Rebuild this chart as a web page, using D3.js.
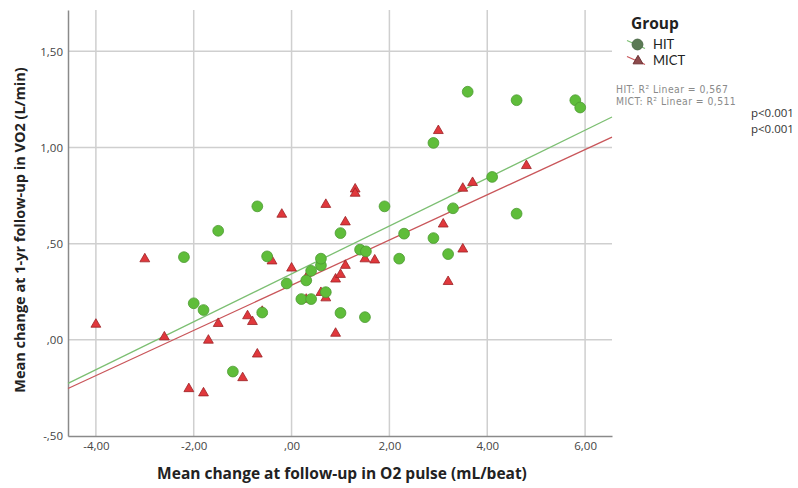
<!DOCTYPE html>
<html>
<head>
<meta charset="utf-8">
<script src="https://cdn.jsdelivr.net/npm/d3@7"></script>
<style>
  body { margin: 0; background: #fff; }
  svg { font-family: "Open Sans", "DejaVu Sans", sans-serif; }
</style>
</head>
<body>
<div id="chart"></div>
<script>
// HIT group: change in O2 pulse (x) and VO2 (y)
const hitPulse = [-2.2, -2.0, -1.8, -1.5, -1.2, -0.7, -0.5, -0.6, -0.1, 0.2, 0.4, 0.3,
  0.4, 0.6, 0.6, 0.7, 1.0, 1.0, 1.4, 1.52, 1.5, 1.9, 2.2, 2.3, 2.9, 2.9, 3.2, 3.3,
  3.6, 4.1, 4.6, 4.6, 5.8, 5.9];
const hitVO2 = [0.43, 0.19, 0.155, 0.567, -0.165, 0.694, 0.434, 0.142, 0.293, 0.212, 0.212, 0.309,
  0.359, 0.387, 0.422, 0.248, 0.555, 0.14, 0.469, 0.46, 0.118, 0.694, 0.422, 0.552, 0.529, 1.024, 0.446, 0.684,
  1.29, 0.847, 1.246, 0.656, 1.246, 1.208];

// MICT group
const mictPulse = [-4.0, -3.0, -2.6, -2.1, -1.8, -1.7, -1.5, -1.0, -0.9, -0.8, -0.7, -0.6,
  -0.4, -0.2, 0.0, 0.3, 0.3, 0.6, 0.7, 0.7, 0.9, 0.9, 1.0, 1.1, 1.1, 1.3, 1.3,
  1.5, 1.7, 3.0, 3.1, 3.2, 3.5, 3.5, 3.7, 4.8];
const mictVO2 = [0.083, 0.423, 0.017, -0.252, -0.274, 0.0, 0.087, -0.195, 0.127, 0.097, -0.072, 0.15,
  0.412, 0.655, 0.375, 0.324, 0.213, 0.248, 0.22, 0.706, 0.318, 0.036, 0.342, 0.389, 0.615, 0.786, 0.764,
  0.423, 0.417, 1.09, 0.604, 0.305, 0.474, 0.79, 0.82, 0.908];

// Fit lines (intercept, slope) as shown
const groups = ["HIT", "MICT"];
const fitIntercept = [0.343, 0.284];
const fitSlope = [0.1245, 0.1175];
const rSquared = ["0,567", "0,511"];
const pValues = ["p<0.001", "p<0.001"];

const xTicks = [-4, -2, 0, 2, 4, 6];
const yTicks = [-0.5, 0, 0.5, 1.0, 1.5];

const width = 798;
const height = 488;
const margin = { top: 10, right: 186, bottom: 52, left: 68 };

const svg = d3.select("#chart")
  .append("svg")
  .attr("width", width)
  .attr("height", height);

const x = d3.scaleLinear()
  .domain([-4.57, 6.55])
  .range([margin.left, width - margin.right]);

const y = d3.scaleLinear()
  .domain([-0.5, 1.715])
  .range([height - margin.bottom, margin.top]);

// SPSS style numbers: comma decimal, no leading zero
const fmt = (v) => {
  const s = Math.abs(v).toFixed(2).replace(/^0/, "").replace(".", ",");
  return (v < 0 ? "-" : "") + s;
};

// Grid
svg.append("g")
  .selectAll("line")
  .data(xTicks)
  .join("line")
  .attr("x1", (d) => x(d))
  .attr("x2", (d) => x(d))
  .attr("y1", y.range()[1])
  .attr("y2", y.range()[0])
  .attr("stroke", "#cfcfcf")
  .attr("stroke-width", 1.5);

svg.append("g")
  .selectAll("line")
  .data(yTicks.filter((d) => d > -0.5))
  .join("line")
  .attr("x1", x.range()[0])
  .attr("x2", x.range()[1])
  .attr("y1", (d) => y(d))
  .attr("y2", (d) => y(d))
  .attr("stroke", "#cfcfcf")
  .attr("stroke-width", 1.5);

// Axes
const xAxis = svg.append("g")
  .attr("transform", `translate(0,${y.range()[0]})`)
  .call(d3.axisBottom(x).tickValues(xTicks).tickFormat(fmt).tickSize(0).tickPadding(6));

const yAxis = svg.append("g")
  .attr("transform", `translate(${x.range()[0]},0)`)
  .call(d3.axisLeft(y).tickValues(yTicks).tickFormat(fmt).tickSize(0).tickPadding(5));

[xAxis, yAxis].forEach((g) => {
  g.select(".domain").attr("stroke", "#8a8a8a").attr("stroke-width", 1.5);
  g.selectAll("text")
    .attr("fill", "#444")
    .attr("font-size", 11.5)
    .attr("font-family", "'Open Sans', sans-serif");
});

// Fit lines
const lineColors = ["#7cbf72", "#c9565a"];
svg.append("g")
  .selectAll("line")
  .data(groups)
  .join("line")
  .attr("x1", x.range()[0])
  .attr("x2", x.range()[1])
  .attr("y1", (d, i) => y(fitIntercept[i] + fitSlope[i] * x.domain()[0]))
  .attr("y2", (d, i) => y(fitIntercept[i] + fitSlope[i] * x.domain()[1]))
  .attr("stroke", (d, i) => lineColors[i])
  .attr("stroke-width", 1.3);

// Points
const tri = d3.symbol().type(d3.symbolTriangle).size(42);

svg.append("g")
  .selectAll("path")
  .data(d3.range(mictPulse.length))
  .join("path")
  .attr("d", tri)
  .attr("transform", (i) => `translate(${x(mictPulse[i])},${y(mictVO2[i]) + 0.5})`)
  .attr("fill", "#e0383c")
  .attr("stroke", "#9c2226")
  .attr("stroke-width", 0.8);

svg.append("g")
  .selectAll("circle")
  .data(d3.range(hitPulse.length))
  .join("circle")
  .attr("cx", (i) => x(hitPulse[i]))
  .attr("cy", (i) => y(hitVO2[i]))
  .attr("r", 5.4)
  .attr("fill", "#5fbd3a")
  .attr("stroke", "#4c9a32")
  .attr("stroke-width", 0.8);

// Axis titles
svg.append("text")
  .attr("x", 342)
  .attr("y", 479)
  .attr("text-anchor", "middle")
  .attr("font-size", 15.5)
  .attr("font-weight", "bold")
  .attr("fill", "#222")
  .text("Mean change at follow-up in O2 pulse (mL/beat)");

svg.append("text")
  .attr("transform", "translate(25,230) rotate(-90)")
  .attr("text-anchor", "middle")
  .attr("font-size", 14.5)
  .attr("font-weight", "bold")
  .attr("fill", "#222")
  .text("Mean change at 1-yr follow-up in VO2 (L/min)");

// Legend
const legend = svg.append("g");
legend.append("text")
  .attr("x", 631)
  .attr("y", 29)
  .attr("font-size", 15.5)
  .attr("font-weight", "bold")
  .attr("fill", "#222")
  .text("Group");

groups.forEach((g, i) => {
  const ly = 44.5 + i * 16;
  legend.append("line")
    .attr("x1", 627).attr("y1", ly - 4)
    .attr("x2", 645).attr("y2", ly + 4)
    .attr("stroke", lineColors[i])
    .attr("stroke-width", 1.3);
  if (i === 0) {
    legend.append("circle")
      .attr("cx", 637.5).attr("cy", ly).attr("r", 5.4)
      .attr("fill", "#5b7a55").attr("stroke", "#4c6a48");
  } else {
    legend.append("path")
      .attr("d", tri)
      .attr("transform", `translate(638,${ly + 0.5})`)
      .attr("fill", "#8e4a4c").attr("stroke", "#6e3234");
  }
  legend.append("text")
    .attr("x", 653)
    .attr("y", ly + 4.5)
    .attr("font-size", 13)
    .attr("font-family", "Lato, sans-serif")
    .attr("fill", "#222")
    .text(g);
});

groups.forEach((g, i) => {
  svg.append("text")
    .attr("x", 616)
    .attr("y", 92.5 + i * 12)
    .attr("font-size", 10.3)
    .attr("letter-spacing", 0.45)
    .attr("font-family", "'DejaVu Sans Condensed', 'DejaVu Sans', sans-serif")
    .attr("fill", "#8a8a8a")
    .text(`${g}: R² Linear = ${rSquared[i]}`);
  svg.append("text")
    .attr("x", 751)
    .attr("y", 117 + i * 15.5)
    .attr("font-size", 11.5)
    .attr("fill", "#333")
    .text(pValues[i]);
});
</script>
</body>
</html>
